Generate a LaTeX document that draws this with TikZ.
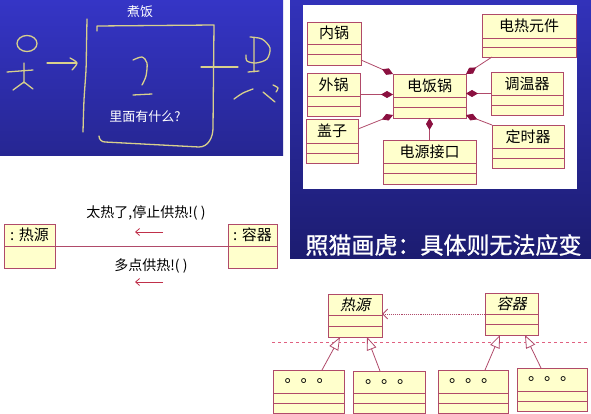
\documentclass[tikz,border=0pt]{standalone}
\usepackage{fontspec}
\setmainfont{Noto Sans CJK SC}
\newfontfamily\cjkslant{Noto Sans CJK SC}[FakeSlant=0.22]
\newfontfamily\cjkheavy{Noto Sans CJK SC}[FakeBold=1]
\usetikzlibrary{arrows.meta}
\definecolor{boxfill}{HTML}{FFFFCC}
\definecolor{boxedge}{HTML}{B04A6A}
\definecolor{diamondred}{HTML}{8B1040}
\definecolor{chalk}{HTML}{D8D08C}
\definecolor{msgred}{HTML}{C0304A}
\definecolor{dashred}{HTML}{E06080}
\definecolor{slidetop}{HTML}{3535C6}
\definecolor{slidebot}{HTML}{262692}
\definecolor{slidetopb}{HTML}{3232BA}
\definecolor{slidebotb}{HTML}{1C1C70}
\tikzset{classbox/.style = {draw=boxedge,fill=boxfill,line width=0.8pt,inner sep=0pt,outer sep=0pt}}
\tikzset{classline/.style = {draw=boxedge,line width=0.8pt}}
\tikzset{classname/.style = {inner sep=0pt,font=\fontsize{15pt}{18pt}\selectfont}}
\tikzset{comp/.style = {draw=boxedge,line width=0.8pt,-{Diamond[length=12pt,width=7pt,color=diamondred]}}}
\tikzset{gen/.style = {draw=boxedge,line width=0.8pt,-{Triangle[length=13pt,width=10pt,fill=white]}}}
\tikzset{dep/.style = {draw=boxedge,densely dotted,line width=0.9pt,-{Straight Barb[length=5pt,width=10pt]}}}
\tikzset{msg/.style = {draw=msgred,line width=0.8pt,-{Straight Barb[length=4pt,width=7pt]}}}
\tikzset{chalkline/.style = {draw=chalk,line width=1.3pt,line cap=round,line join=round}}
\tikzset{slidetext/.style = {text=white,inner sep=0pt,font=\fontsize{13pt}{15pt}\selectfont}}

% class box: id, x1, y1, x2, y2, name divider, label
\newcommand\umlclass[7]{%
  \node[classbox,minimum width={#4-#2},minimum height={#5-#3}] (#1) at ({(#2+#4)/2},{(#3+#5)/2}) {};
  \draw[classline] (#2,#6) -- (#4,#6) (#2,{(#6+#5)/2}) -- (#4,{(#6+#5)/2});
  \node[classname] (#1-name) at ({(#2+#4)/2},{(#3+#6)/2}) {#7};
}
% object box: id, x1, y1, x2, y2, divider, label
\newcommand\umlobject[7]{%
  \node[classbox,minimum width={#4-#2},minimum height={#5-#3}] (#1) at ({(#2+#4)/2},{(#3+#5)/2}) {};
  \draw[classline] (#2,#6) -- (#4,#6);
  \node[classname] (#1-name) at ({(#2+#4)/2},{(#3+#6)/2}) {#7};
}

\begin{document}
\begin{tikzpicture}[x=1pt,y=-1pt]
  \useasboundingbox (0,0) rectangle (591,414);
  \fill[white] (0,0) rectangle (591,414);

  % left slide
  \shade[top color=slidetop,bottom color=slidebot] (0,0) rectangle (283,156);
  \node[slidetext] (title) at (140,12) {煮饭};
  \node[slidetext] (question) at (145,117) {里面有什么?};
  \draw[chalkline] plot[smooth] coordinates {(87,19) (86.5,45) (86,70) (84,100) (83,132)};
  \draw[chalkline] (97,31) -- (97,26) -- (214,25) -- (213,128) to[out=-90,in=0] (199,147)
    -- (105,142) to[out=180,in=-90] (99,136);
  \draw[chalkline] (201,67) -- (238,67);
  \draw[chalkline] plot[smooth] coordinates {(133,60) (142,57) (147,63) (146,76) (142,85)};
  \draw[chalkline] (133,95) -- (152,94);
  \draw[chalkline] (27,43.5) ellipse [x radius=10,y radius=8];
  \draw[chalkline] (7,72) -- (33,70) (24,63) -- (24,83) (13,90) -- (24,82) -- (33,89);
  \draw[chalkline] (47,63) -- (76,63);
  \draw[chalkline] plot[smooth] coordinates {(70,58) (77,63) (72,70)};
  \draw[chalkline] (254,38) -- (254,72) (248,72) -- (259,71);
  \draw[chalkline] plot[smooth] coordinates {(250,37) (262,39) (270,48) (267,59) (256,63) (247,61) (246,55)};
  \draw[chalkline] plot[smooth] coordinates {(234,99) (243,93) (253,89)};
  \draw[chalkline] (263,92) -- (275,102);
  \draw[chalkline] plot[smooth] coordinates {(273,85) (278,88) (276,92)};

  % right slide
  \shade[top color=slidetopb,bottom color=slidebotb] (290,0) rectangle (591,258);
  \fill[white] (303,5) rectangle (577,189);
  \umlclass{nei}{307}{22}{361}{65}{44}{内锅}
  \umlclass{wai}{307}{73}{360}{116}{96}{外锅}
  \umlclass{gai}{306}{119}{358}{163}{143}{盖子}
  \umlclass{fan}{393}{74}{466}{118}{97}{电饭锅}
  \umlclass{jiekou}{383}{140}{476}{184}{163}{电源接口}
  \umlclass{yuanjian}{482}{14}{576}{57}{38}{电热元件}
  \umlclass{tiaowen}{491}{72}{563}{115}{95}{调温器}
  \umlclass{dingshi}{492}{125}{564}{168}{148}{定时器}
  \draw[comp] ([yshift=5pt]nei.south east) -- (fan.north west);
  \draw[comp] (wai.east) -- (wai.east -| fan.west);
  \draw[comp] ([yshift=-10pt]gai.north east) -- ([yshift=3pt]fan.south west);
  \draw[comp] (jiekou.north) -- (fan.south);
  \draw[comp] ([xshift=10pt]yuanjian.south west) -- (fan.north east);
  \draw[comp] (tiaowen.west) -- (tiaowen.west -| fan.east);
  \draw[comp] (dingshi.north west) -- ([yshift=3pt]fan.south east);
  \node[text=white,inner sep=0pt,font=\cjkheavy\fontsize{23pt}{26pt}\selectfont] (motto) at (443.5,245) {照猫画虎：具体则无法应变};

  % collaboration
  \umlobject{reyuan}{4}{224}{55}{268}{246}{: 热源}
  \umlobject{rongqi}{228}{224}{277}{268}{246}{: 容器}
  \draw[classline] (reyuan.east) -- (rongqi.west);
  \node[classname,font=\fontsize{14pt}{16pt}\selectfont] (msga) at (146,213) {太热了,停止供热!( )};
  \node[classname,font=\fontsize{14pt}{16pt}\selectfont] (msgb) at (151,266) {多点供热!( )};
  \draw[msg] (163,232) -- (135,232);
  \draw[msg] (163,282) -- (135,282);

  % inheritance
  \draw[dashred,dashed,line width=0.8pt] (272,342) -- (589,342);
  \umlclass{heat}{328}{294}{382}{337}{315}{\cjkslant 热源}
  \umlclass{pot}{485}{293}{538}{335}{314}{\cjkslant 容器}
  \umlclass{sub1}{273}{370}{344}{413}{393}{\fontsize{16pt}{16pt}\selectfont 。。。}
  \umlclass{sub2}{353}{371}{425}{413}{393}{\fontsize{16pt}{16pt}\selectfont 。。。}
  \umlclass{sub3}{438}{370}{508}{413}{393}{\fontsize{16pt}{16pt}\selectfont 。。。}
  \umlclass{sub4}{517}{368}{587}{411}{391}{\fontsize{16pt}{16pt}\selectfont 。。。}
  \draw[dep] (pot.west) -- (pot.west -| heat.east);
  \draw[gen] ([xshift=13.5pt]sub1.north) -- ([xshift=-15pt]heat.south);
  \draw[gen] ([xshift=-9pt]sub2.north) -- ([xshift=12pt]heat.south);
  \draw[gen] ([xshift=12pt]sub3.north) -- ([xshift=-11.5pt]pot.south);
  \draw[gen] ([xshift=-11pt]sub4.north) -- ([xshift=13.5pt]pot.south);
\end{tikzpicture}
\end{document}
